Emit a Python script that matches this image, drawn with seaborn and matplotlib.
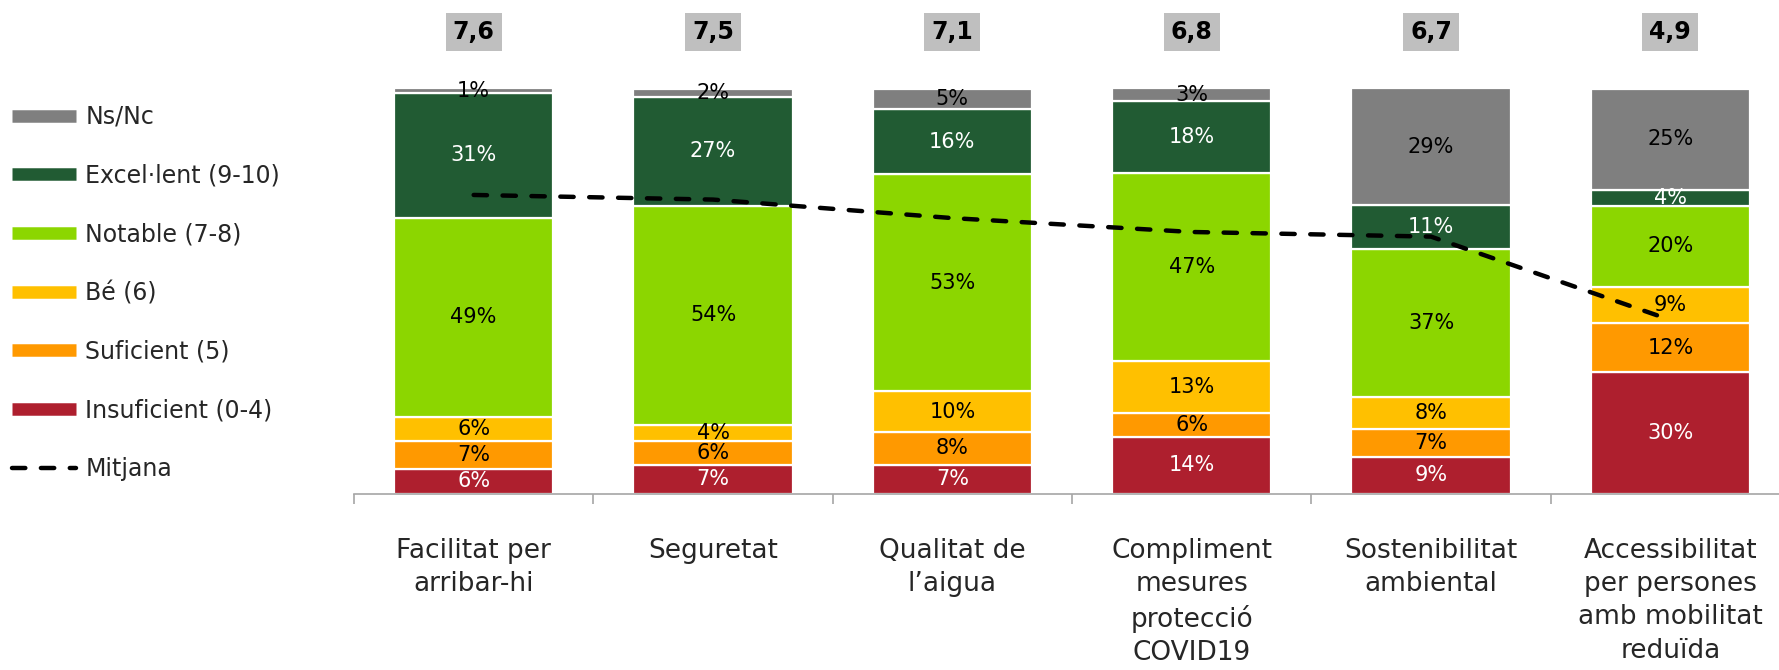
import numpy as np
import matplotlib
matplotlib.use("Agg")
import matplotlib.pyplot as plt
import matplotlib.transforms as mtransforms
from matplotlib.lines import Line2D
import seaborn as sns

# Data
categories = ["Facilitat per\narribar-hi", "Seguretat", "Qualitat de\nl\u2019aigua",
              "Compliment\nmesures\nprotecció\nCOVID19", "Sostenibilitat\nambiental",
              "Accessibilitat\nper persones\namb mobilitat\nreduïda"]
levels = ["Insuficient (0-4)", "Suficient (5)", "Bé (6)", "Notable (7-8)",
          "Excel·lent (9-10)", "Ns/Nc"]
insuficient = [6, 7, 7, 14, 9, 30]
suficient = [7, 6, 8, 6, 7, 12]
be = [6, 4, 10, 13, 8, 9]
notable = [49, 54, 53, 47, 37, 20]
excellent = [31, 27, 16, 18, 11, 4]
nsnc = [1, 2, 5, 3, 29, 25]
mitjana = [7.6, 7.5, 7.1, 6.8, 6.7, 4.9]
mitjana_labels = ["7,6", "7,5", "7,1", "6,8", "6,7", "4,9"]

colors = ["#AE1F2E", "#FF9900", "#FFC000", "#8CD600", "#215B33", "#7F7F7F"]
text_colors = ["white", "black", "black", "black", "white", "black"]

sns.set_theme(style="white")
plt.rcParams["font.family"] = ["DejaVu Sans"]

series = np.array([insuficient, suficient, be, notable, excellent, nsnc], dtype=float)
shares = series / series.sum(axis=0) * 100  # bars fill to 100%

fig = plt.figure(figsize=(17.79, 6.70), dpi=100)
ax = fig.add_axes([354 / 1779, 176.5 / 670, 1436 / 1779, 405 / 670])

bottom = np.zeros(len(categories))
for k, lvl in enumerate(levels):
    sns.barplot(x=list(range(len(categories))), y=shares[k], bottom=bottom,
                color=colors[k], saturation=1, width=0.665, errorbar=None,
                edgecolor="white", linewidth=1.6, ax=ax, native_scale=True)
    for i in range(len(categories)):
        ax.text(i, bottom[i] + shares[k][i] / 2, f"{int(series[k][i])}%",
                ha="center", va="center", fontsize=15, color=text_colors[k])
    bottom += shares[k]

ax.set_xlim(-0.5, len(categories) - 0.5)
ax.set_ylim(0, 100)
ax.set_yticks([])
ax.set_ylabel("")
for s in ["top", "right", "left"]:
    ax.spines[s].set_visible(False)
ax.spines["bottom"].set_color("#A6A6A6")
ax.spines["bottom"].set_linewidth(1.2)

ax.set_xticks(range(len(categories)))
ax.set_xticklabels(categories, fontsize=19, linespacing=1.36, va="top")
ax.tick_params(axis="x", which="major", length=0, pad=32)
ax.set_xticks(np.arange(-0.5, len(categories)), minor=True)
ax.tick_params(axis="x", which="minor", length=7, width=1.2, color="#A6A6A6",
               direction="out", bottom=True)

# mean line on secondary scale
ax2 = ax.twinx()
ax2.plot(range(len(categories)), mitjana, color="black", lw=3.2,
         linestyle=(0, (3, 3.5)), dash_capstyle="round", zorder=5)
ax2.set_ylim(1.15, 9.9)
ax2.set_yticks([])
for s in ax2.spines.values():
    s.set_visible(False)

# mean values above bars
trans = mtransforms.blended_transform_factory(ax.transData, ax.transAxes)
for i, lab in enumerate(mitjana_labels):
    ax.text(i, 1.139, lab, transform=trans, ha="center", va="center",
            fontsize=17, fontweight="bold", color="black",
            bbox=dict(boxstyle="square,pad=0.3", facecolor="#BFBFBF", edgecolor="none"))

# legend
handles = [Line2D([0], [0], color=colors[k], lw=9, solid_capstyle="butt")
           for k in range(len(levels) - 1, -1, -1)]
labels = [levels[k] for k in range(len(levels) - 1, -1, -1)]
handles.append(Line2D([0], [0], color="black", lw=3.2, linestyle=(0, (3, 3.5)),
                      dash_capstyle="round"))
labels.append("Mitjana")
fig.legend(handles, labels, loc="center left", bbox_to_anchor=(12 / 1779, (670 - 293) / 670),
           frameon=False, fontsize=17, handlelength=2.7, handletextpad=0.4,
           labelspacing=1.47, borderpad=0, borderaxespad=0)

fig.savefig("out.png", dpi=100)
